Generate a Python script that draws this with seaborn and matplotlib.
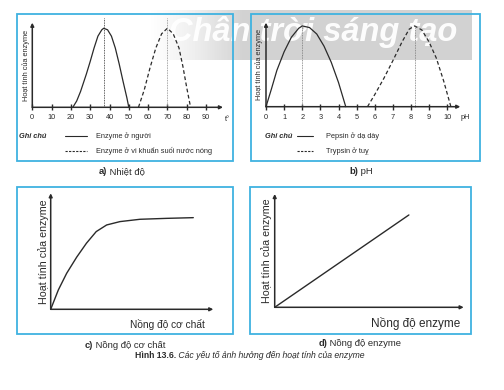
import matplotlib
matplotlib.use("Agg")
import matplotlib.pyplot as plt
import seaborn as sns
import numpy as np
from matplotlib.patches import Rectangle

# a) Nhiet do
temp_ticks = [0, 10, 20, 30, 40, 50, 60, 70, 80, 90]
human_t = [21, 23, 25, 28, 30, 32, 34, 36, 37, 39, 41, 43, 45, 47, 49, 50]
human_act = [0, 8, 20, 42, 58, 75, 90, 98, 100, 98, 90, 75, 55, 33, 12, 0]
thermo_t = [55, 58, 61, 64, 67, 70, 73, 76, 78, 80, 82]
thermo_act = [0, 22, 50, 75, 93, 100, 93, 75, 52, 25, 0]
temp_optima = [37, 70]

# b) pH
ph_ticks = [0, 1, 2, 3, 4, 5, 6, 7, 8, 9, 10]
pepsin_ph = [0, 0.3, 0.6, 1.0, 1.4, 1.8, 2.0, 2.4, 2.8, 3.2, 3.6, 4.0, 4.4]
pepsin_act = [0, 22, 45, 68, 86, 97, 100, 98, 90, 75, 55, 30, 0]
trypsin_ph = [5.6, 6.0, 6.5, 7.0, 7.5, 7.9, 8.2, 8.6, 9.0, 9.4, 9.8, 10.2]
trypsin_act = [0, 15, 35, 57, 80, 96, 100, 95, 80, 60, 32, 0]
ph_optima = [2.0, 8.2]

# c) Nong do co chat
substrate = [0, 4.7, 9.8, 16, 22, 28, 34.4, 42.6, 54.9, 71.3, 87.7]
substrate_act = [0, 16.7, 31, 45, 57, 67, 72.7, 75.6, 77.6, 78.4, 79]

# d) Nong do enzyme
enzyme = [0, 71]
enzyme_act = [0, 81.5]

W, H = 504, 390
INK = "#2a2a2a"
FRAME = "#3fb2e0"
YLABEL = "Hoạt tính của enzyme"

sns.set_style("white")
plt.rcParams["font.family"] = ["Liberation Sans", "DejaVu Sans"]

fig = plt.figure(figsize=(W / 100, H / 100), dpi=100)

bg = fig.add_axes([0, 0, 1, 1], zorder=0)
bg.set_xlim(0, W)
bg.set_ylim(H, 0)
bg.axis("off")

# watermark band
grad = np.clip(np.linspace(0, 1, 200) * 3.5, 0, 1)[None, :]
bg.imshow(grad, extent=(150, 472, 60, 10), aspect="auto", cmap="Greys",
          vmin=0, vmax=3.6, zorder=0.5)
bg.text(169, 41, "Chân trời sáng tạo", color="white", fontsize=23.5,
        fontweight="bold", style="italic", ha="left", va="baseline",
        zorder=0.6, alpha=0.95)

# frames
for x0, y0, x1, y1 in [(17, 14, 233, 161), (251, 14, 480, 161),
                       (17, 187, 233, 334), (250, 187, 471, 334)]:
    bg.add_patch(Rectangle((x0, y0), x1 - x0, y1 - y0, fill=False,
                           edgecolor=FRAME, lw=1.3, zorder=1))


def px_axes(x0, ytop, x1, ybot):
    ax = fig.add_axes([x0 / W, 1 - ybot / H, (x1 - x0) / W, (ybot - ytop) / H],
                      zorder=2)
    ax.patch.set_alpha(0)
    for s in ax.spines.values():
        s.set_visible(False)
    for end in [(1, 0), (0, 1)]:
        ax.annotate("", xy=end, xytext=(0, 0), xycoords="axes fraction",
                    arrowprops=dict(arrowstyle="-|>", lw=1.1, color=INK,
                                    shrinkA=0, shrinkB=0, mutation_scale=5))
    return ax


def finish(ax):
    for ln in ax.lines:
        ln.set_clip_on(False)


# ---- a)
ax = px_axes(32.3, 22.7, 223, 107.3)
sns.lineplot(x=human_t, y=human_act, sort=False, color=INK, lw=0.9, ax=ax)
sns.lineplot(x=thermo_t, y=thermo_act, sort=False, color=INK, lw=0.9,
             linestyle=(0, (3, 2)), ax=ax)
for t, c in zip(temp_optima, [INK, "#888888"]):
    ax.axvline(t, 0, 1.05, color=c, lw=0.6, linestyle=(0, (1, 1)))
ax.set_xlim(0, 98.8)
ax.set_ylim(0, 107)
ax.set_xticks(temp_ticks)
ax.set_yticks([])
ax.tick_params(axis="x", direction="inout", length=4, width=1, colors=INK,
               labelsize=5.3, pad=3, bottom=True)
ax.text(1.01, -0.14, "t°", transform=ax.transAxes, fontsize=5.3,
        color=INK, ha="left", va="center")
ax.set_ylabel(YLABEL, fontsize=5.3, color=INK, labelpad=2)
finish(ax)

# ---- b)
ax = px_axes(266, 22.7, 460.3, 106.7)
sns.lineplot(x=pepsin_ph, y=pepsin_act, sort=False, color=INK, lw=0.9, ax=ax)
sns.lineplot(x=trypsin_ph, y=trypsin_act, sort=False, color=INK, lw=0.9,
             linestyle=(0, (3, 2)), ax=ax)
for p in ph_optima:
    ax.axvline(p, 0, 100 / 104, color="#777777", lw=0.6, linestyle=(0, (1, 1)))
ax.set_xlim(0, 10.72)
ax.set_ylim(0, 104)
ax.set_xticks(ph_ticks)
ax.set_yticks([])
ax.tick_params(axis="x", direction="inout", length=4, width=1, colors=INK,
               labelsize=5.3, pad=3, bottom=True)
ax.text(1.0, -0.13, "pH", transform=ax.transAxes, fontsize=5.3,
        color=INK, ha="left", va="center")
ax.set_ylabel(YLABEL, fontsize=5.3, color=INK, labelpad=2)
finish(ax)

# legends a), b)
for gx, lx0, lx1, tx, labels in [
        (19, 65, 87, 96, ["Enzyme ở người", "Enzyme ở vi khuẩn suối nước nóng"]),
        (265, 297, 313, 326, ["Pepsin ở dạ dày", "Trypsin ở tuỵ"])]:
    bg.text(gx, 136, "Ghi chú", fontsize=5.3, fontweight="bold",
            style="italic", color=INK, va="center")
    for y, ls, lab in zip([136, 151], ["-", (0, (2, 1.2))], labels):
        bg.plot([lx0, lx1], [y, y], color=INK, lw=0.8, linestyle=ls)
        bg.text(tx, y, lab, fontsize=5.3, color=INK, va="center")

# ---- c)
ax = px_axes(50.7, 193.3, 213.3, 309.3)
sns.lineplot(x=substrate, y=substrate_act, sort=False, color=INK, lw=1.0, ax=ax)
ax.set_xlim(0, 100)
ax.set_ylim(0, 100)
ax.set_xticks([])
ax.set_yticks([])
ax.set_ylabel(YLABEL, fontsize=7.7, color=INK, labelpad=1)
bg.text(167, 324, "Nồng độ cơ chất", fontsize=7.3, color=INK,
        ha="center", va="center")
finish(ax)

# ---- d)
ax = px_axes(274.7, 194, 463.7, 307.3)
sns.lineplot(x=enzyme, y=enzyme_act, sort=False, color=INK, lw=1.0, ax=ax)
ax.set_xlim(0, 100)
ax.set_ylim(0, 100)
ax.set_xticks([])
ax.set_yticks([])
ax.set_ylabel(YLABEL, fontsize=7.7, color=INK, labelpad=2)
bg.text(416, 323, "Nồng độ enzyme", fontsize=8.5, color=INK,
        ha="center", va="center")
finish(ax)

# captions: bold tag + normal text, centred as a pair
renderer = fig.canvas.get_renderer()


def caption(cx, cy, tag, rest, size, rest_style="normal"):
    t1 = bg.text(cx, cy, tag, fontsize=size, fontweight="bold", color=INK,
                 ha="left", va="center")
    t2 = bg.text(cx, cy, rest, fontsize=size, style=rest_style, color=INK,
                 ha="left", va="center")
    w1 = t1.get_window_extent(renderer).width
    w2 = t2.get_window_extent(renderer).width
    start = cx - (w1 + w2) / 2
    t1.set_x(start)
    t2.set_x(start + w1)


caption(122, 172, "a)", " Nhiệt độ", 6.8)
caption(361, 172, "b)", " pH", 6.8)
caption(125, 345, "c)", " Nồng độ cơ chất", 6.8)
caption(360, 344, "d)", " Nồng độ enzyme", 6.8)
caption(250, 356, "Hình 13.6.", " Các yếu tố ảnh hưởng đến hoạt tính của enzyme",
        6.2, rest_style="italic")

fig.savefig("out.png", dpi=100)
